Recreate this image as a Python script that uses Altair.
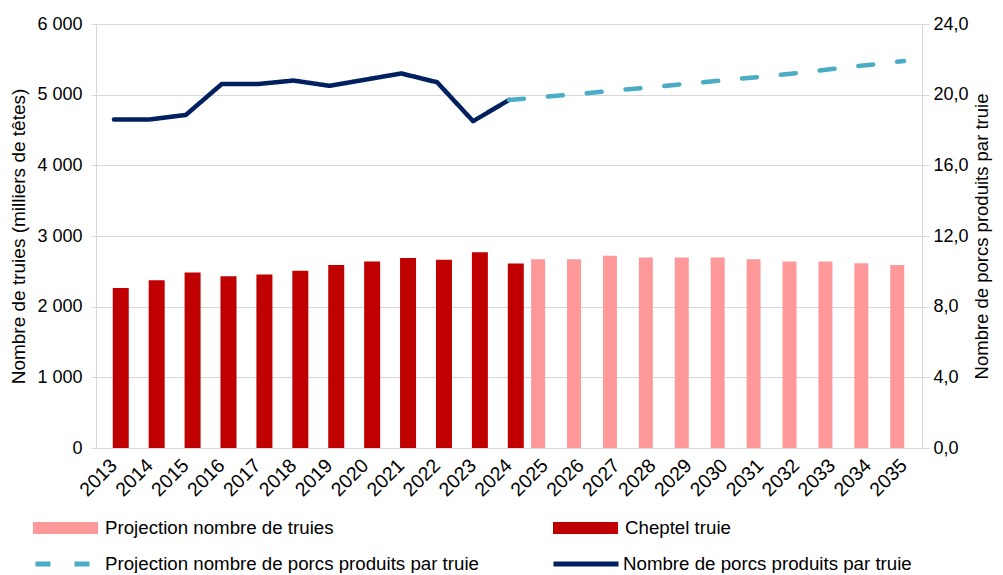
import altair as alt
import pandas as pd

# ---- data ----
years = [str(y) for y in range(2013, 2036)]

cheptel_years = [str(y) for y in range(2013, 2025)]
cheptel = [2265, 2375, 2485, 2430, 2455, 2510, 2590, 2640, 2690, 2665, 2770, 2612]

proj_truies_years = [str(y) for y in range(2025, 2036)]
proj_truies = [2670, 2670, 2720, 2695, 2695, 2695, 2670, 2640, 2640, 2615, 2590]

porcs_years = [str(y) for y in range(2013, 2025)]
porcs = [18.6, 18.6, 18.85, 20.6, 20.6, 20.8, 20.5, 20.85, 21.2, 20.7, 18.5, 19.7]

proj_porcs_years = [str(y) for y in range(2024, 2036)]
proj_porcs = [19.7, 19.88, 20.05, 20.24, 20.43, 20.63, 20.82, 21.01, 21.22, 21.45, 21.68, 21.9]

left_ticks = [0, 1000, 2000, 3000, 4000, 5000, 6000]
right_ticks = [0, 4, 8, 12, 16, 20, 24]

LBL_PT = "Projection nombre de truies"
LBL_CT = "Cheptel truie"
LBL_PP = "Projection nombre de porcs produits par truie"
LBL_NP = "Nombre de porcs produits par truie"

FONT = "Liberation Sans"

red_df = pd.DataFrame({"annee": cheptel_years, "valeur": cheptel, "serie": LBL_CT})
pink_df = pd.DataFrame({"annee": proj_truies_years, "valeur": proj_truies, "serie": LBL_PT})
line_df = pd.concat([
    pd.DataFrame({"annee": porcs_years, "ratio": porcs, "serie": LBL_NP}),
    pd.DataFrame({"annee": proj_porcs_years, "ratio": proj_porcs, "serie": LBL_PP}),
])

x_enc = alt.X(
    "annee:O",
    scale=alt.Scale(domain=years, paddingInner=0, paddingOuter=0),
    axis=alt.Axis(
        title=None, labelAngle=315, labelAlign="right", labelBaseline="middle",
        ticks=False, labelPadding=14, labelFontSize=19.5,
        domainColor="#D9D9D9", grid=False,
    ),
)

y_left = alt.Y(
    "valeur:Q",
    scale=alt.Scale(domain=[0, 6000], nice=False),
    axis=alt.Axis(
        title="Nombre de truies (milliers de têtes)", orient="left",
        values=left_ticks, grid=True, tickSize=5, labelPadding=9,
        labelExpr="replace(format(datum.value, ','), ',', ' ')",
        titlePadding=8,
    ),
)

fill_scale = alt.Scale(domain=[LBL_PT, LBL_CT], range=["#FF9999", "#C00000"])
bar_legend = alt.Legend(
    title=None, orient="none", legendX=-63, legendY=471, direction="horizontal",
    symbolType="M-1,-0.185H1V0.185H-1Z", symbolSize=4225, symbolStrokeWidth=0,
    symbolOpacity=1, labelFont=FONT, labelFontSize=18.7, labelColor="#000000",
    labelOffset=7, columnPadding=219, padding=0, labelLimit=600,
)

red_bars = alt.Chart(red_df).mark_bar(width=16, xOffset=6.8).encode(
    x=x_enc, y=y_left,
    fill=alt.Fill("serie:N", scale=fill_scale, legend=bar_legend),
)
pink_bars = alt.Chart(pink_df).mark_bar(width=14, xOffset=-6.8).encode(
    x=x_enc, y=y_left,
    fill=alt.Fill("serie:N", scale=fill_scale, legend=bar_legend),
)

line_legend = alt.Legend(
    title=None, orient="none", legendX=-63, legendY=505, direction="horizontal",
    symbolType="stroke", symbolSize=4225, symbolStrokeWidth=5,
    symbolOpacity=1, labelFont=FONT, labelFontSize=18.7, labelColor="#000000",
    labelOffset=2, columnPadding=64, padding=0, labelLimit=600,
)

lines = alt.Chart(line_df).mark_line(strokeWidth=4.5, strokeCap="round", strokeJoin="round").encode(
    x=x_enc,
    y=alt.Y(
        "ratio:Q",
        scale=alt.Scale(domain=[0, 24], nice=False),
        axis=alt.Axis(
            title="Nombre de porcs produits par truie", orient="right",
            values=right_ticks, grid=False, tickSize=7, labelPadding=4,
            labelExpr="replace(format(datum.value, '.1f'), '.', ',')",
            titleAngle=270, titlePadding=23, titleFontSize=18.5,
        ),
    ),
    stroke=alt.Stroke(
        "serie:N",
        scale=alt.Scale(domain=[LBL_PP, LBL_NP], range=["#4BACC6", "#002060"]),
        legend=line_legend,
    ),
    strokeDash=alt.StrokeDash(
        "serie:N",
        scale=alt.Scale(domain=[LBL_PP, LBL_NP], range=[[15, 24], [1, 0]]),
        legend=line_legend,
    ),
)

chart = (
    alt.layer(alt.layer(pink_bars, red_bars), lines)
    .resolve_scale(y="independent")
    .properties(
        width=826, height=424,
        autosize=alt.AutoSizeParams(type="none"),
        padding={"left": 88, "top": 16, "right": 73, "bottom": 125},
    )
    .configure_view(stroke=None)
    .configure_axis(
        labelFont=FONT, labelFontSize=18, labelColor="#000000",
        titleFont=FONT, titleFontSize=19, titleFontWeight="normal", titleColor="#000000",
        domainColor="#D9D9D9", tickColor="#D9D9D9", gridColor="#D9D9D9",
    )
)

chart.save("out.html", embed_options={"renderer": "svg", "actions": False})
